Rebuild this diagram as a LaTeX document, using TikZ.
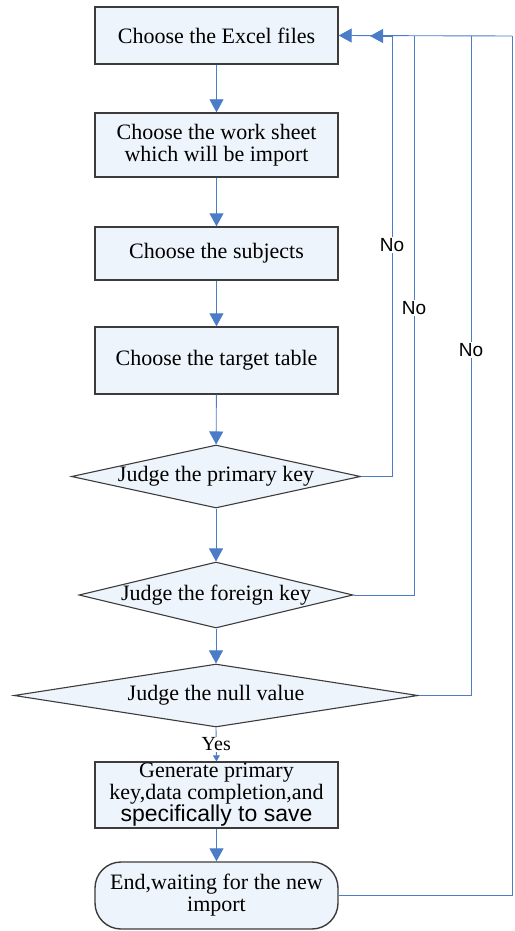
\documentclass[tikz,border=0pt]{standalone}
\usepackage{fontspec}
\setmainfont{Liberation Serif}
\setsansfont{Liberation Sans}
\usetikzlibrary{shapes.geometric,arrows.meta}
\definecolor{flowblue}{HTML}{4A7CC8}
\definecolor{boxfill}{HTML}{EEF4FB}
\definecolor{boxedge}{HTML}{3C3C3C}
\tikzset{
  stepbox/.style={draw=boxedge, line width=1.4pt, fill=boxfill, minimum width=243pt,
    inner sep=0pt, align=center, font=\fontsize{22}{22}\selectfont},
  decide/.style={draw=boxedge, line width=1.1pt, fill=boxfill, shape=diamond, inner sep=0pt},
  decidetext/.style={font=\fontsize{22}{22}\selectfont},
  flow/.style={draw=flowblue, line width=0.9pt},
  arr/.style={flow, -{Triangle[width=14pt,length=13pt]}},
  nolabel/.style={fill=white, inner sep=1pt, font=\sffamily\fontsize{19}{19}\selectfont},
}
\begin{document}
\begin{tikzpicture}[x=1pt,y=-1pt]
\useasboundingbox (0,0) rectangle (514,931);

% process steps
\node[stepbox, minimum height=57pt] (b1) at (216.5,35.5) {Choose the Excel files};
\node[stepbox, minimum height=64pt] (b2) at (216.5,145) {Choose the work sheet\\which will be import};
\node[stepbox, minimum height=53pt] (b3) at (216.5,253.5) {Choose the subjects};
\node[stepbox, minimum height=67pt] (b4) at (216.5,360.5) {Choose the target table};

% checks
\node[decide, minimum width=289pt, minimum height=63pt,
  label={[decidetext]center:Judge the primary key}] (d1) at (216,476.5) {};
\node[decide, minimum width=274pt, minimum height=66pt,
  label={[decidetext]center:Judge the foreign key}] (d2) at (216,595) {};
\node[decide, minimum width=404pt, minimum height=63pt,
  label={[decidetext]center:Judge the null value}] (d3) at (216,695.5) {};

% saving and end
\node[stepbox, minimum height=66pt] (b5) at (216.5,795)
  {Generate primary\\key,data completion,and\\{\sffamily\fontsize{23}{22}\selectfont specifically to save}};
\node[stepbox, minimum height=67pt, rounded corners=26pt] (e) at (216.5,895.5)
  {End,waiting for the new\\import};

% main flow
\draw[arr] (b1) -- (b2);
\draw[arr] (b2) -- (b3);
\draw[arr] (b3) -- (b4);
\draw[arr] (b4) -- (d1);
\draw[arr] (d1) -- (d2);
\draw[arr] (d2) -- (d3);
\draw[flow, -{Triangle[width=7pt,length=6pt]}] (d3.south) -- (b5.north)
  node[pos=0.5, fill=white, inner sep=0.5pt, font=\fontsize{20}{20}\selectfont] (yes) {Yes};
\draw[arr] (b5) -- (e);

% return paths
\coordinate (r1) at (392,36);
\coordinate (r2) at (414,36);
\coordinate (r3) at (471,36);
\coordinate (rt) at (512,36);
\coordinate (rb) at (512,895.5);
\coordinate (t1) at (370,36);

\draw[flow] (e.east) -- (rb) -- (rt);
\draw[arr] (rt) -- (b1.east);
\draw[flow] (d1.east) -| (r1);
\draw[arr] (r1) -- (t1);
\draw[flow] (d2.east) -| (r2);
\draw[flow] (d3.east) -| (r3);

\node[nolabel] (n1) at (392,245) {No};
\node[nolabel] (n2) at (414,308) {No};
\node[nolabel] (n3) at (471,350) {No};
\end{tikzpicture}
\end{document}
